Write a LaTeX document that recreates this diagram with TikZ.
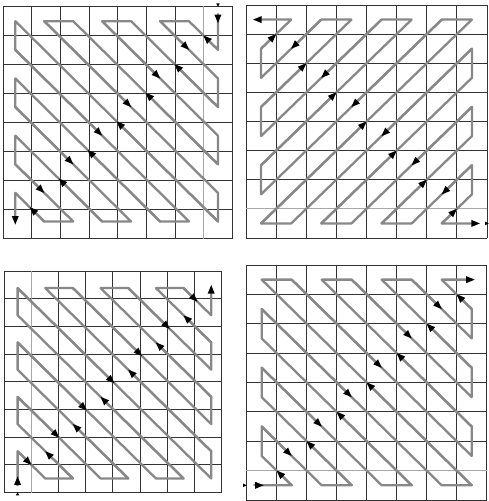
\documentclass[tikz,border=0pt]{standalone}
\usetikzlibrary{arrows.meta}

\definecolor{scan}{HTML}{888888}
\definecolor{cellline}{HTML}{333333}
\definecolor{faintline}{HTML}{a8a8a8}

% zigzag through an 8x8 block, (column,row) of the plain scan
\newcommand{\zigzag}{(0,0) -- (1,0) -- (0,1) -- (0,2) -- (2,0) -- (3,0) -- (0,3) -- (0,4) -- (4,0) -- (5,0) -- (0,5) -- (0,6) -- (6,0) -- (7,0) -- (0,7) -- (1,7) -- (7,1) -- (7,2) -- (2,7) -- (3,7) -- (7,3) -- (7,4) -- (4,7) -- (5,7) -- (7,5) -- (7,6) -- (6,7) -- (7,7)}
% the diagonal runs, from/to
\newcommand{\diagruns}{1/0/0/1, 0/2/2/0, 3/0/0/3, 0/4/4/0, 5/0/0/5, 0/6/6/0, 7/0/0/7, 1/7/7/1, 7/2/2/7, 3/7/7/3, 7/4/4/7, 5/7/7/5, 7/6/6/7}
\newcommand{\cellgrid}{\foreach \k in {0,...,8} {\draw[cellrule] (\k,0) -- (\k,8); \draw[cellrule] (0,\k) -- (8,\k);}}

\begin{document}
\begin{tikzpicture}[
  x=1pt, y=1pt,
  line cap=round, line join=round,
  >={Triangle[length=8.5pt, width=7pt, line width=0pt, color=black]},
  cellrule/.style={draw=cellline, line width=0.9pt, line cap=rect},
  faint/.style={draw=faintline, line width=0.9pt, line cap=rect},
  scanpath/.style={draw=scan, line width=2.3pt},
]
\useasboundingbox (0,0) rectangle (488,501);

% top left: starts top right, goes down first
\begin{scope}[shift={(3.3,262.7)}, x=28.62pt, y=28.95pt]
  \cellgrid
  \draw[faint] (7,0) -- (7,8);
  \begin{scope}[cm={0,-1,-1,0,(7.5,7.5)}]
    \draw[scanpath, ->, shorten >=-3pt] \zigzag;
    \foreach \xa/\ya/\xb/\yb in \diagruns
      \draw[scanpath, ->] (\xa,\ya) -- ({(\xa+\xb)/2},{(\ya+\yb)/2});
    \draw[scanpath, ->, shorten >=-2pt] (-0.25,0) -- (0,0);
    \fill (-0.5,0) -- (-0.62,0.06) -- (-0.62,-0.06) -- cycle;
  \end{scope}
\end{scope}

% top right: runs back from the bottom right
\begin{scope}[shift={(246,263)}, x=30.12pt, y=29.12pt]
  \cellgrid
  \draw[faint] (0,1) -- (8,1);
  \begin{scope}[cm={1,0,0,-1,(0.5,7.5)}]
    \draw[scanpath, <->, shorten <=-8pt, shorten >=-8pt] \zigzag;
    \foreach \xa/\ya/\xb/\yb in \diagruns
      \draw[scanpath, ->] (\xb,\yb) -- ({(\xa+\xb)/2},{(\ya+\yb)/2});
    \fill (7.56,7) -- (7.44,6.94) -- (7.44,7.06) -- cycle;
  \end{scope}
\end{scope}

% bottom left: starts bottom left, goes up first
\begin{scope}[shift={(4,8.7)}, x=27.2pt, y=27.66pt]
  \cellgrid
  \draw[faint] (1,0) -- (1,8);
  \begin{scope}[cm={0,1,1,0,(0.5,0.5)}]
    \draw[scanpath, ->, shorten >=-3pt] \zigzag;
    \foreach \xa/\ya/\xb/\yb in \diagruns
      \draw[scanpath, ->] (\xa,\ya) -- ({(\xa+\xb)/2},{(\ya+\yb)/2});
    \draw[scanpath, ->, shorten >=-2pt] (-0.25,0) -- (0,0);
    \fill (-0.5,0) -- (-0.62,0.06) -- (-0.62,-0.06) -- cycle;
  \end{scope}
\end{scope}

% bottom right: starts bottom left, goes right first
\begin{scope}[shift={(246.7,1)}, x=30pt, y=29.38pt]
  \cellgrid
  \draw[faint] (0,1) -- (8,1);
  \begin{scope}[shift={(0.5,0.5)}]
    \draw[scanpath, ->, shorten >=-3pt] \zigzag;
    \foreach \xa/\ya/\xb/\yb in \diagruns
      \draw[scanpath, ->] (\xa,\ya) -- ({(\xa+\xb)/2},{(\ya+\yb)/2});
    \draw[scanpath, ->, shorten >=-2pt] (-0.25,0) -- (0,0);
    \fill (-0.5,0) -- (-0.62,0.06) -- (-0.62,-0.06) -- cycle;
  \end{scope}
\end{scope}
\end{tikzpicture}
\end{document}
